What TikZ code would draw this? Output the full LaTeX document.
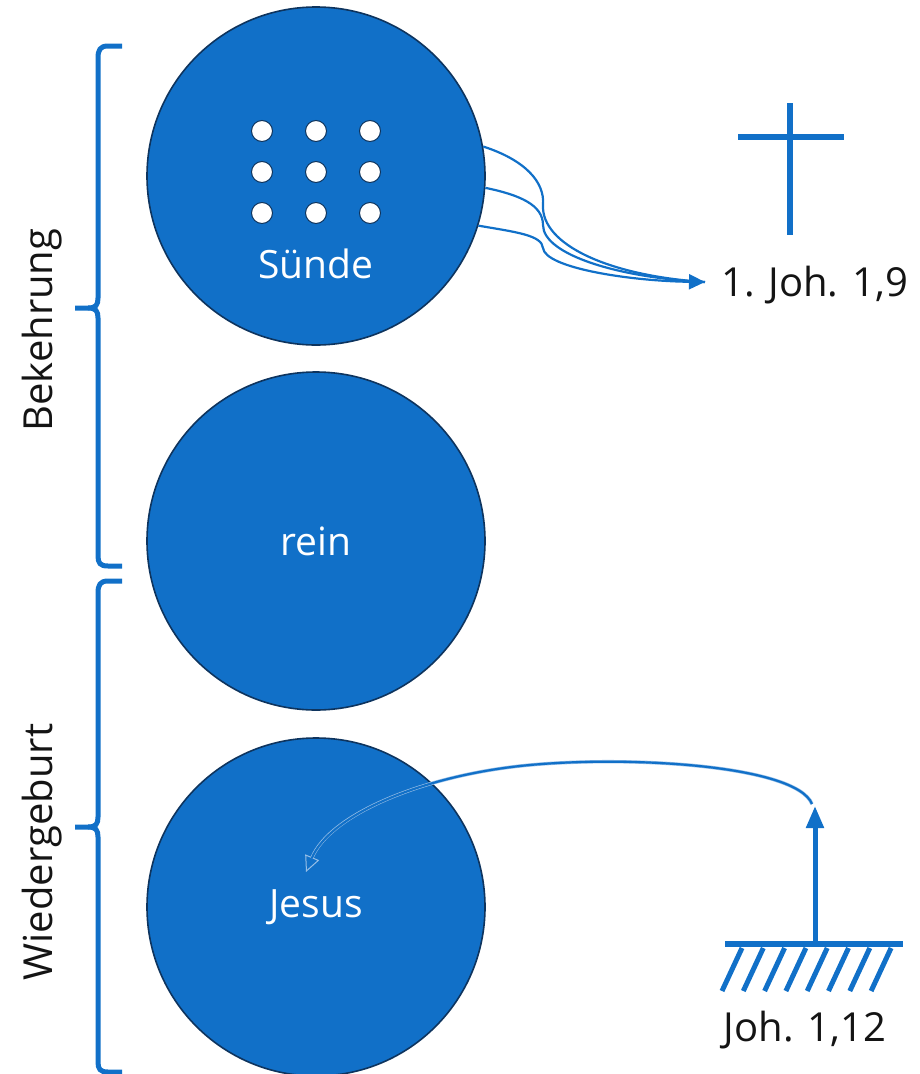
\documentclass[tikz,border=0pt]{standalone}
\usepackage{fontspec}
\setmainfont{Open Sans}
\usetikzlibrary{arrows.meta}
\definecolor{mblue}{RGB}{17,112,200}
\definecolor{mdark}{RGB}{14,52,94}
\definecolor{mlight}{RGB}{150,190,230}
\definecolor{mtext}{RGB}{20,20,20}
\tikzset{
  bigc/.style={circle,fill=mblue,draw=mdark,line width=1.6pt,minimum size=338pt,inner sep=0pt,
    text=white,font=\fontsize{39}{43}\selectfont},
  dotc/.style={circle,fill=white,draw=mdark,line width=1pt,minimum size=21pt,inner sep=0pt},
  lbl/.style={text=mtext,font=\fontsize{40}{44}\selectfont,inner sep=0pt},
  brc/.style={draw=mblue,line width=5pt,line join=round,line cap=butt},
  flow/.style={draw=mblue,line width=2.2pt},
  sym/.style={draw=mblue,line width=6pt}
}
\begin{document}
\begin{tikzpicture}[x=1pt,y=-1pt]
\useasboundingbox (0,0) rectangle (919,1074);
% circles
\node[bigc] (suende) at (316,176) {};
\node[bigc] (rein) at (316,541) {rein};
\node[bigc] (jesus) at (316,907) {Jesus};
\node[text=white,font=\fontsize{39}{43}\selectfont,inner sep=0pt] (suendetxt) at (316,264) {Sünde};
% dots
\foreach \i/\x in {1/262,2/316,3/370}{
  \foreach \j/\y in {1/131,2/172,3/213}{
    \node[dotc] (d\i\j) at (\x,\y) {};
  }
}
% braces
\draw[brc] (122,46) -- (108,46) .. controls (100,46) and (98,50) .. (98,58) -- (98,298)
  .. controls (98,305) and (96,308) .. (88,308) -- (75,308);
\draw[brc] (88,308) .. controls (96,308) and (98,311) .. (98,318) -- (98,556)
  .. controls (98,563) and (100,566) .. (108,566) -- (122,566);
\draw[brc] (122,581) -- (108,581) .. controls (100,581) and (98,585) .. (98,593) -- (98,817)
  .. controls (98,824) and (96,827) .. (88,827) -- (75,827);
\draw[brc] (88,827) .. controls (96,827) and (98,830) .. (98,837) -- (98,1062)
  .. controls (98,1069) and (100,1072) .. (108,1072) -- (122,1072);
\node[lbl,rotate=90] (bek) at (42,330) {Bekehrung};
\node[lbl,rotate=90] (wied) at (42,852) {Wiedergeburt};
% cross
\coordinate (crtop) at (790,103);
\coordinate (crbot) at (790,235);
\coordinate (crl) at (738,137);
\coordinate (crr) at (844,137);
\draw[sym] (crtop) -- (crbot);
\draw[sym] (crl) -- (crr);
% arrows from Suende
\coordinate (tip) at (705,282);
\node[lbl,anchor=west] (joh19) at (721,285) {1. Joh. 1,9};
\draw[flow] (suende.10) .. controls (525,160) and (545,182) .. (543,205)
  .. controls (541,245) and (610,276) .. (tip);
\draw[flow] (suende.-4) .. controls (520,195) and (543,205) .. (543,225)
  .. controls (543,255) and (620,278) .. (tip);
\draw[flow,-{Triangle[length=16pt,width=15pt]}] (suende.-17) .. controls (515,232) and (542,235) .. (543,248)
  .. controls (545,268) and (630,281) .. (tip);
% ground and up arrow
\coordinate (gl) at (725,944);
\coordinate (gr) at (903,944);
\coordinate (gmid) at (815,944);
\coordinate (uptip) at (815,806);
\draw[sym] (gl) -- (gr);
\foreach \k in {0,...,7}{
  \draw[draw=mblue,line width=5pt] (742+21.3*\k,948) -- (722+21.3*\k,991);
}
\draw[draw=mblue,line width=5pt,-{Triangle[length=22pt,width=17pt]}] (gmid) -- (uptip);
\node[lbl] (joh112) at (805,1030) {Joh. 1,12};
% curved arrow into Jesus
\coordinate (jtip) at (306,872);
\draw[draw=mlight,line width=3.4pt,-{Triangle[open,fill=mblue,length=16pt,width=15pt,line width=1pt]}]
  (812,804) .. controls (796,764) and (620,755) .. (520,766)
  .. controls (420,777) and (330,815) .. (jtip);
\draw[draw=mblue,line width=2.2pt,shorten >=15pt]
  (812,804) .. controls (796,764) and (620,755) .. (520,766)
  .. controls (420,777) and (330,815) .. (jtip);
\end{tikzpicture}
\end{document}
